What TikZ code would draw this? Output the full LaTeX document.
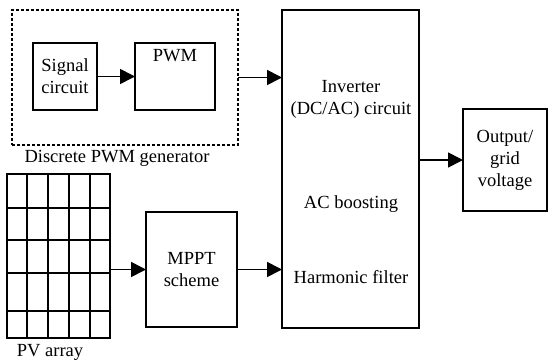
\documentclass[tikz,border=0pt]{standalone}
\usepackage{fontspec}
\setmainfont{Liberation Serif}
\usetikzlibrary{arrows.meta}
\begin{document}
\begin{tikzpicture}[x=1pt,y=-1pt,
  every node/.style={font=\fontsize{18.5}{22}\selectfont, inner sep=0pt, outer sep=0pt},
  blk/.style={draw, line width=1.7pt, align=center},
  txt/.style={align=center},
  arr/.style={line width=1.7pt, -{Triangle[length=15pt,width=15pt]}}]
\useasboundingbox (0,0) rectangle (548,362);
\node[draw, line width=1.5pt, dash pattern=on 3pt off 2pt, minimum width=226pt, minimum height=135pt] (gen) at (125,77.5) {};
\node[blk, minimum width=64pt, minimum height=67pt] (sig) at (65,76.5) {Signal\\circuit};
\node[blk, minimum width=80pt, minimum height=67pt, label={[anchor=north, yshift=-6pt]north:PWM}] (pwm) at (175,76.5) {};
\node[txt] (genlbl) at (117,158) {Discrete PWM generator};
\node[blk, minimum width=137pt, minimum height=318pt] (inv) at (350.5,169) {};
\node[txt] (t1) at (351,99) {Inverter\\(DC/AC) circuit};
\node[txt] (t2) at (351,204) {AC boosting};
\node[txt] (t3) at (351,277) {Harmonic filter};
\node[blk, minimum width=84pt, minimum height=102pt] (out) at (505,160) {Output/\\grid\\voltage};
\node[blk, minimum width=91pt, minimum height=115pt] (mppt) at (191.5,269.5) {MPPT\\scheme};
\node[blk, minimum width=103pt, minimum height=164pt] (pv) at (58.5,256) {};
\foreach \x in {27,48,69,90} \draw[line width=1.7pt] (\x,174) -- (\x,338);
\foreach \y in {208,240,273,311} \draw[line width=1.7pt] (7,\y) -- (110,\y);
\node[txt] (pvlbl) at (50,352) {PV array};
\draw[arr] (sig.east) -- (pwm.west);
\draw[arr] (gen.east) -- (gen.east -| inv.west);
\draw[arr] (pv.east |- mppt.west) -- (mppt.west);
\draw[arr] (mppt.east) -- (mppt.east -| inv.west);
\draw[arr] (inv.east |- out.west) -- (out.west);
\end{tikzpicture}
\end{document}
